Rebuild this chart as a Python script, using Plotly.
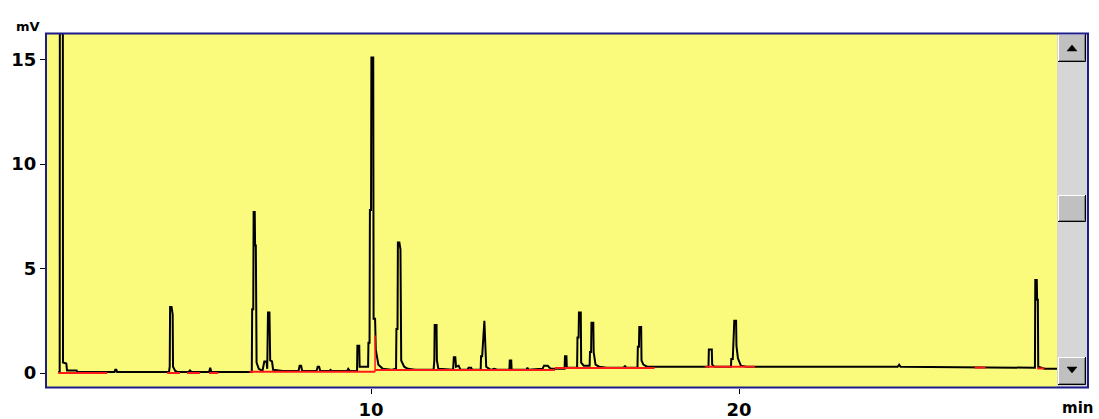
import plotly.graph_objects as go

# ---- chromatogram trace (time in min, signal in mV) ----
time_min = [
    1.50, 1.54, 1.55, 1.62, 1.63, 1.72, 1.74, 2.00, 2.02, 3.03, 3.05, 3.08, 3.10,
    4.51, 4.53, 4.54, 4.58, 4.59, 4.61, 4.62, 4.68, 4.74,
    5.05, 5.08, 5.11, 5.60, 5.63, 5.66,
    6.76, 6.77, 6.80, 6.81, 6.84, 6.85, 6.87, 6.89, 6.95, 7.05, 7.10, 7.16, 7.18, 7.20, 7.24, 7.26, 7.31, 7.34, 7.60,
    8.03, 8.06, 8.10, 8.13, 8.52, 8.55, 8.59, 8.62, 8.87, 8.90, 8.93, 9.35, 9.38, 9.42,
    9.62, 9.63, 9.68, 9.69, 9.80, 9.92, 9.93, 9.96, 9.97, 10.00, 10.01, 10.06, 10.07, 10.11, 10.13,
    10.20, 10.32, 10.55, 10.68, 10.69, 10.72, 10.73, 10.77, 10.78, 10.80, 10.82, 10.90, 11.00, 11.20,
    11.70, 11.72, 11.73, 11.78, 11.79, 11.83, 12.23, 12.25, 12.29, 12.31, 12.38, 12.43,
    12.62, 12.65, 12.72, 12.75, 12.98, 12.99, 13.02, 13.06, 13.08, 13.13, 13.25, 13.35, 13.45,
    13.76, 13.77, 13.81, 13.82, 14.22, 14.25, 14.28, 14.66, 14.70, 14.80, 14.85, 14.90,
    15.26, 15.27, 15.31, 15.32, 15.60, 15.61, 15.64, 15.65, 15.70, 15.71, 15.78,
    15.94, 15.95, 15.98, 15.99, 16.04, 16.05, 16.10, 16.20, 16.40, 16.87, 16.90, 16.93,
    17.24, 17.25, 17.28, 17.29, 17.34, 17.35, 17.40, 17.50, 19.17, 19.18, 19.26, 19.27, 19.33,
    19.78, 19.79, 19.83, 19.84, 19.86, 19.87, 19.92, 19.93, 19.97, 20.05, 20.20,
    24.31, 24.35, 24.39, 26.50, 28.04, 28.05, 28.09, 28.10, 28.12, 28.13, 28.30, 28.64,
]
signal_mv = [
    0.05, 0.05, 40.0, 40.0, 0.50, 0.45, 0.12, 0.12, 0.05, 0.05, 0.15, 0.15, 0.05,
    0.05, 0.30, 3.16, 3.16, 2.80, 2.80, 0.30, 0.10, 0.05,
    0.05, 0.15, 0.05, 0.05, 0.25, 0.05,
    0.05, 3.05, 3.05, 7.70, 7.70, 6.10, 6.10, 0.50, 0.20, 0.10, 0.55, 0.55, 0.20, 2.90, 2.90, 0.60, 0.55, 0.15, 0.10,
    0.10, 0.35, 0.35, 0.10, 0.10, 0.30, 0.30, 0.10, 0.10, 0.15, 0.10, 0.10, 0.20, 0.10,
    0.10, 1.30, 1.30, 0.30, 0.30, 0.30, 1.45, 1.45, 7.80, 7.80, 15.10, 15.10, 2.60, 2.60, 1.10,
    0.40, 0.20, 0.15, 0.20, 2.10, 2.10, 6.25, 6.25, 5.90, 5.90, 0.60, 0.30, 0.20, 0.15,
    0.15, 0.60, 2.30, 2.30, 0.60, 0.20, 0.15, 0.75, 0.75, 0.30, 0.35, 0.15,
    0.15, 0.25, 0.25, 0.15, 0.15, 0.80, 0.80, 2.50, 2.50, 0.30, 0.15, 0.20, 0.15,
    0.15, 0.60, 0.60, 0.15, 0.15, 0.25, 0.15, 0.20, 0.35, 0.35, 0.25, 0.20,
    0.20, 0.80, 0.80, 0.25, 0.25, 1.70, 1.70, 2.90, 2.90, 0.50, 0.35,
    0.35, 1.00, 1.00, 2.40, 2.40, 1.00, 0.40, 0.30, 0.25, 0.25, 0.35, 0.25,
    0.25, 1.25, 1.25, 2.20, 2.20, 0.60, 0.40, 0.30, 0.30, 1.13, 1.13, 0.40, 0.30,
    0.30, 0.67, 0.67, 2.00, 2.00, 2.50, 2.50, 1.30, 0.70, 0.35, 0.30,
    0.30, 0.40, 0.30, 0.28, 0.25, 4.45, 4.45, 3.50, 3.50, 0.30, 0.20, 0.20,
]

# ---- integration baseline segments (red), start/end time and level ----
base_start = [1.50, 4.46, 5.00, 5.60, 6.70, 10.11, 15.00, 19.08, 26.40, 28.10]
base_end   = [2.83, 4.81, 5.35, 5.85, 10.11, 15.00, 17.70, 20.43, 26.70, 28.30]
base_level = [0.00, 0.00, 0.00, 0.00, 0.06, 0.14, 0.24, 0.30, 0.26, 0.22]

# drop line at main peak
drop_time = [10.11, 10.11]
drop_level = [0.06, 1.80]

x_ticks = [10, 20]
y_ticks = [0, 5, 10, 15]

# layout constants (pixels)
W, H = 1099, 419
L, R, T, B = 46, 1057, 33, 388

def px(xp):
    return (xp - L) / (R - L)

def py(yp):
    return (B - yp) / (B - T)

bx, by = [], []
for s, e, lv in zip(base_start, base_end, base_level):
    bx += [s, e, None]
    by += [lv, lv, None]

fig = go.Figure()
fig.add_trace(go.Scatter(x=time_min, y=signal_mv, mode="lines",
                         line=dict(color="black", width=2), hoverinfo="skip"))
fig.add_trace(go.Scatter(x=bx, y=by, mode="lines",
                         line=dict(color="#ff1a1a", width=2), hoverinfo="skip"))
fig.add_trace(go.Scatter(x=drop_time, y=drop_level, mode="lines",
                         line=dict(color="#ff1a1a", width=1.5), hoverinfo="skip"))

tick_font = dict(family="DejaVu Sans", size=18, color="black", weight="bold")

fig.update_layout(
    width=W, height=H,
    margin=dict(l=L, r=W - R, t=T, b=H - B, pad=0, autoexpand=False),
    paper_bgcolor="white",
    plot_bgcolor="#fafa7c",
    showlegend=False,
    xaxis=dict(range=[1.168, 28.64], tickvals=x_ticks, ticktext=[str(v) for v in x_ticks],
               showgrid=False, zeroline=False, showline=False, automargin=False,
               ticks="outside", ticklen=5, tickwidth=1, tickcolor="black",
               tickfont=tick_font, fixedrange=True),
    yaxis=dict(range=[-0.718, 16.27], tickvals=y_ticks, ticktext=[str(v) for v in y_ticks],
               showgrid=False, zeroline=False, showline=False, automargin=False,
               ticks="outside", ticklen=5, tickwidth=1, tickcolor="black",
               tickfont=tick_font, fixedrange=True),
)

shapes = []
# scrollbar track
shapes.append(dict(type="rect", xref="paper", yref="paper",
                   x0=px(1057), x1=px(1087), y0=py(388), y1=py(33),
                   fillcolor="#d6d6d6", line=dict(width=0), layer="above"))

def button(y0, y1):
    out = []
    out.append(dict(type="rect", xref="paper", yref="paper",
                    x0=px(1058), x1=px(1086), y0=py(y1), y1=py(y0),
                    fillcolor="#c0c0c0", line=dict(width=0), layer="above"))
    out.append(dict(type="path", xref="paper", yref="paper",
                    path=f"M {px(1058.5)} {py(y1-1)} L {px(1058.5)} {py(y0+0.5)} L {px(1085)} {py(y0+0.5)}",
                    line=dict(color="white", width=1), layer="above"))
    out.append(dict(type="path", xref="paper", yref="paper",
                    path=f"M {px(1059)} {py(y1-1.5)} L {px(1084.5)} {py(y1-1.5)} L {px(1084.5)} {py(y0+1)}",
                    line=dict(color="#808080", width=1), layer="above"))
    out.append(dict(type="path", xref="paper", yref="paper",
                    path=f"M {px(1058)} {py(y1-0.5)} L {px(1085.5)} {py(y1-0.5)} L {px(1085.5)} {py(y0)}",
                    line=dict(color="black", width=1), layer="above"))
    return out

shapes += button(34, 62)
shapes += button(195, 222)
shapes += button(357, 385)
shapes.append(dict(type="path", xref="paper", yref="paper",
                   path=f"M {px(1067)} {py(51)} L {px(1077)} {py(51)} L {px(1072)} {py(45)} Z",
                   fillcolor="black", line=dict(color="black", width=0.5), layer="above"))
shapes.append(dict(type="path", xref="paper", yref="paper",
                   path=f"M {px(1067)} {py(367)} L {px(1077)} {py(367)} L {px(1072)} {py(373)} Z",
                   fillcolor="black", line=dict(color="black", width=0.5), layer="above"))
shapes.append(dict(type="rect", xref="paper", yref="paper",
                   x0=px(46), x1=px(1088), y0=py(387.5), y1=py(33.5),
                   fillcolor="rgba(0,0,0,0)", line=dict(color="#1c1c8a", width=2), layer="above"))
fig.update_layout(shapes=shapes)

fig.add_annotation(text="mV", xref="paper", yref="paper", x=px(28), y=py(26),
                   xanchor="center", yanchor="middle", showarrow=False,
                   font=dict(family="DejaVu Sans", size=13, color="black", weight="bold"))
fig.add_annotation(text="min", xref="paper", yref="paper", x=px(1077), y=py(408),
                   xanchor="center", yanchor="middle", showarrow=False,
                   font=dict(family="DejaVu Sans", size=15, color="black", weight="bold"))

fig.write_html("out.html")
